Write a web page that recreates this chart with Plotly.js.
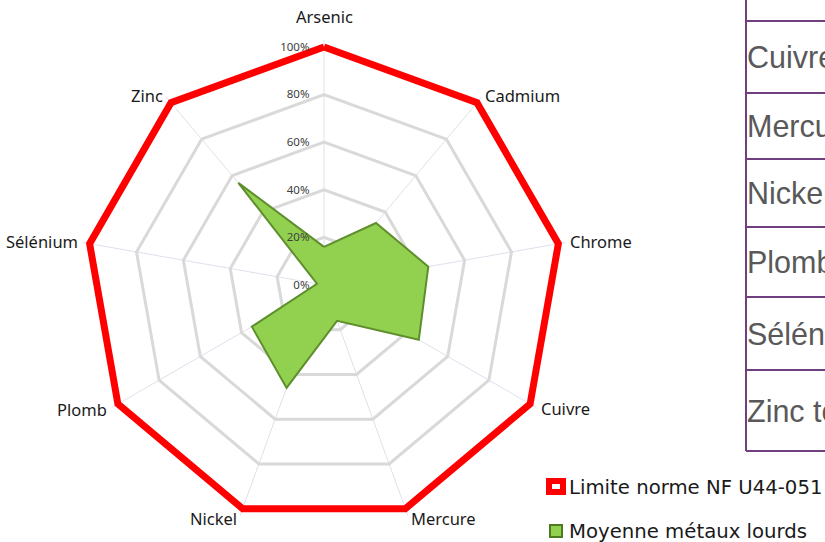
<!DOCTYPE html>
<html>
<head>
<meta charset="utf-8">
<script src="https://cdn.plot.ly/plotly-3.0.1.min.js"></script>
<style>html,body{margin:0;padding:0;background:#fff;}#chart{width:825px;height:542px;}</style>
</head>
<body>
<div id="chart"></div>
<script>
// ---- data ----
var metals = ["Arsenic","Cadmium","Chrome","Cuivre","Mercure","Nickel","Plomb","Sélénium","Zinc"];
var limite = [1,1,1,1,1,1,1,1,1];
var moyenne = [0.16,0.34,0.445,0.46,0.16,0.46,0.35,0.03,0.56];
var radialTicks = [0,0.2,0.4,0.6,0.8,1.0];
var radialTickText = ["0%","20%","40%","60%","80%","100%"];
var seriesNames = ["Limite norme NF U44-051","Moyenne métaux lourds"];
var tableRows = ["Cuivre","Mercure","Nickel","Plomb","Sélénium","Zinc total"];

// ---- helpers ----
var W = 825, H = 542;
function px(x){return x/W;}
function py(y){return 1 - y/H;}
function closeArr(a){return a.concat([a[0]]);}

var rMax = 1.03;
var cx = 324, cy = 285, R0 = 238, R = R0 * rMax;

var traces = [
  {
    type:"scatterpolar", r: closeArr(moyenne), theta: closeArr(metals),
    mode:"lines", fill:"toself", fillcolor:"#92d050",
    line:{color:"#5f8f2c", width:2}, name: seriesNames[1], showlegend:false
  },
  {
    type:"scatterpolar", r: closeArr(limite), theta: closeArr(metals),
    mode:"lines", line:{color:"#ff0000", width:7}, name: seriesNames[0], showlegend:false
  }
];

var shapes = [];
var annotations = [];

// angular category labels placed around the 100% polygon
metals.forEach(function(m,i){
  var a = i * 2*Math.PI/metals.length;
  var s = Math.sin(a), c = Math.cos(a);
  var vx = cx + R0*s, vy = cy - R0*c;
  var ann = {xref:"paper", yref:"paper", text:m, showarrow:false,
    font:{family:"Noto Sans", size:16.5, color:"#1a1a1a"}};
  if (Math.abs(s) < 0.1) {
    ann.x = px(vx); ann.y = py(vy - 17); ann.xanchor = "center"; ann.yanchor = "bottom";
  } else {
    ann.x = px(vx + 10*s); ann.y = py(vy - 10*c);
    ann.xanchor = s > 0 ? "left" : "right"; ann.yanchor = "middle";
  }
  annotations.push(ann);
});

// table
var tLineX = 746, tRight = 830;
var rowLines = [21, 93, 159, 227, 297, 370, 451];
shapes.push({type:"line", xref:"paper", yref:"paper", x0:px(tLineX), x1:px(tLineX), y0:py(-2), y1:py(rowLines[rowLines.length-1]), line:{color:"#6f3f80", width:2}});
rowLines.forEach(function(y){
  shapes.push({type:"line", xref:"paper", yref:"paper", x0:px(tLineX), x1:px(tRight), y0:py(y), y1:py(y), line:{color:"#6f3f80", width:2}});
});
tableRows.forEach(function(t,i){
  var yc = (rowLines[i]+rowLines[i+1])/2;
  annotations.push({xref:"paper", yref:"paper", x:px(745), y:py(yc), text:t, showarrow:false, xanchor:"left", yanchor:"middle",
    font:{family:"Liberation Sans, Arial", size:30.5, color:"#595959"}});
});
// legend
shapes.push({type:"rect", xref:"paper", yref:"paper", x0:px(546), x1:px(566), y0:py(478), y1:py(495), fillcolor:"#ff0000", line:{width:0}});
shapes.push({type:"rect", xref:"paper", yref:"paper", x0:px(552), x1:px(560), y0:py(484), y1:py(489), fillcolor:"#ffffff", line:{width:0}});
shapes.push({type:"rect", xref:"paper", yref:"paper", x0:px(549), x1:px(563), y0:py(524), y1:py(538), fillcolor:"#4f7a22", line:{width:0}});
shapes.push({type:"rect", xref:"paper", yref:"paper", x0:px(551), x1:px(561), y0:py(526), y1:py(536), fillcolor:"#92d050", line:{width:0}});
annotations.push({xref:"paper", yref:"paper", x:px(567), y:py(487), text:seriesNames[0], showarrow:false, xanchor:"left", yanchor:"middle",
  font:{family:"DejaVu Sans", size:19.7, color:"#1a1a1a"}});
annotations.push({xref:"paper", yref:"paper", x:px(567), y:py(531), text:seriesNames[1], showarrow:false, xanchor:"left", yanchor:"middle",
  font:{family:"DejaVu Sans", size:19.7, color:"#1a1a1a"}});

var layout = {
  width: W, height: H,
  margin:{l:0,r:0,t:0,b:0},
  paper_bgcolor:"#ffffff",
  showlegend:false,
  polar:{
    domain:{x:[px(cx-R), px(cx+R)], y:[py(cy+R), py(cy-R)]},
    bgcolor:"rgba(0,0,0,0)",
    gridshape:"linear",
    angularaxis:{
      direction:"clockwise", rotation:90, categoryorder:"array", categoryarray: metals,
      showline:false, gridcolor:"#e0e0ee", gridwidth:1,
      ticks:"", showticklabels:false
    },
    radialaxis:{
      range:[0,rMax], angle:90, side:"counterclockwise", tickangle:90,
      tickvals: radialTicks, ticktext: radialTickText,
      showline:false, gridcolor:"#d9d9d9", gridwidth:3,
      ticks:"outside", ticklen:10, tickcolor:"rgba(0,0,0,0)",
      tickfont:{family:"Noto Sans", size:11.5, color:"#404040"}
    }
  },
  shapes: shapes,
  annotations: annotations
};

Plotly.newPlot("chart", traces, layout, {displayModeBar:false, staticPlot:true});
</script>
</body>
</html>
